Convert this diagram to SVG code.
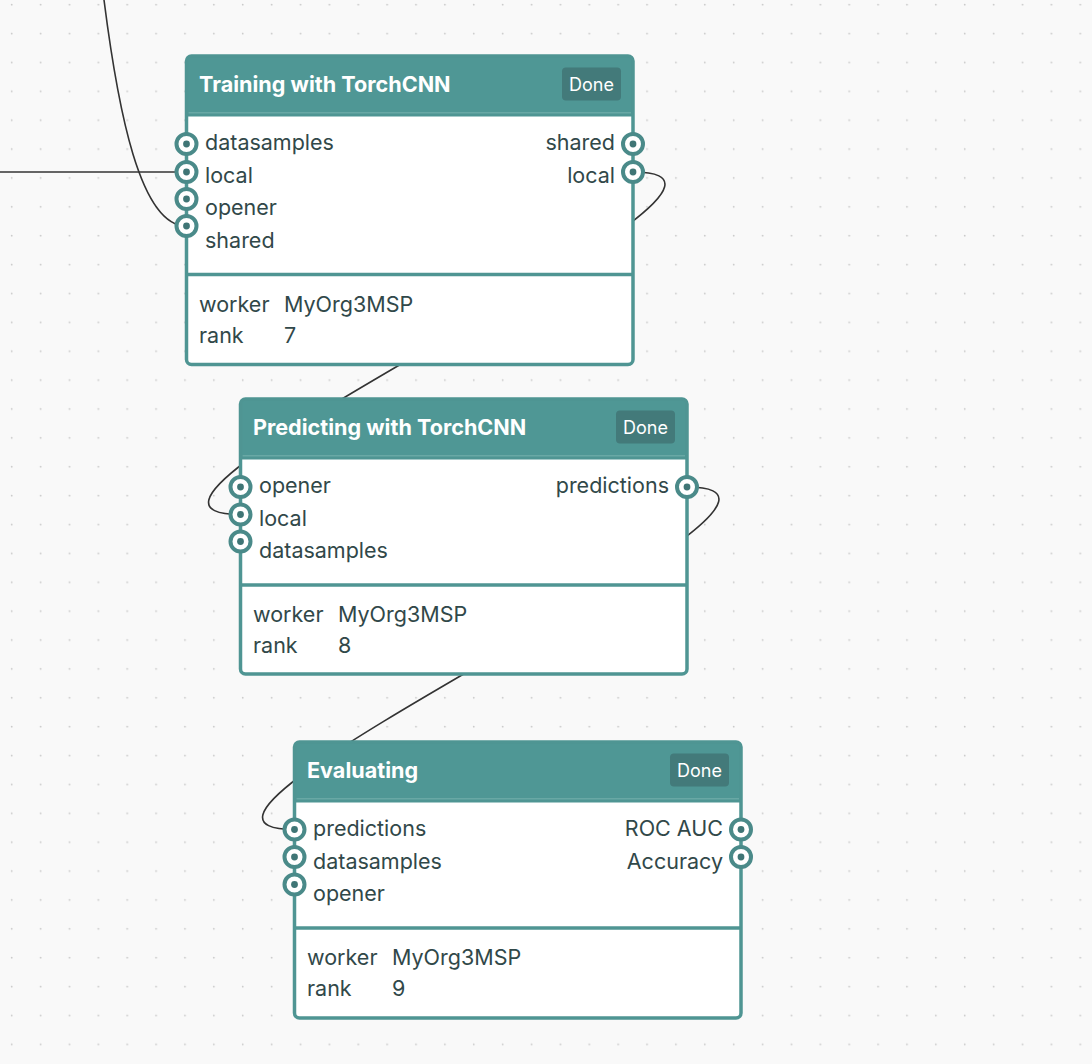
<svg xmlns="http://www.w3.org/2000/svg" width="1092" height="1064" viewBox="0 0 1092 1064">
<defs>
<pattern id="grid" patternUnits="userSpaceOnUse" x="0" y="0" width="28.88" height="28.88">
<circle cx="11.7" cy="4.7" r="0.9" fill="#c9c9c9"/>
</pattern>
<style>
.bg{fill:#f9f9f9}
.link{fill:none;stroke:#333;stroke-width:1.6}
.body{fill:#fff}
.frame{fill:none;stroke:#4f9593;stroke-width:3.5}
.head{fill:#4f9795}
.hl{stroke:#84b9b6;stroke-width:1.2}
.hb{stroke:#4f9593;stroke-width:3}
.sep{stroke:#4f9593;stroke-width:3.5}
.badge{fill:#437a7a}
.title{font-family:Inter,"Liberation Sans",sans-serif;font-weight:700;font-size:21.6px;fill:#fff}
.done{font-family:Inter,"Liberation Sans",sans-serif;font-size:18px;fill:#fff;text-anchor:middle}
.lbl{font-family:Inter,"Liberation Sans",sans-serif;font-size:21.5px;fill:#314849}
.r{text-anchor:end}
.port{fill:#fff;stroke:#4a8a89;stroke-width:4}
.dot{fill:#3f7575}
</style>
</defs>
<rect class="bg" width="1092" height="1064"/>
<rect fill="url(#grid)" width="1092" height="1064"/>

<g id="connectors">
<path class="link" d="M0,172 L186,172"/>
<path class="link" d="M104,0 C118,110 140,226 186,226"/>
<path class="link" d="M633,172 C830,172 43.5,514.5 240.5,514.5"/>
<path class="link" d="M687,487 C884,487 97.5,829.5 294.5,829.5"/>
</g>

<g id="node-training" transform="translate(186.5,56)">
<rect class="body" x="0" y="0" width="446.5" height="308.5" rx="5"/>
<path class="head" d="M0,58 V5 Q0,0 5,0 H441.5 Q446.5,0 446.5,5 V58 Z"/>
<line class="hl" x1="2" y1="57" x2="444.5" y2="57"/>
<line class="hb" x1="0" y1="59" x2="446.5" y2="59"/>
<line class="sep" x1="0" y1="218.5" x2="446.5" y2="218.5"/>
<rect class="frame" x="0" y="0" width="446.5" height="308.5" rx="5"/>
<text class="title" x="12.5" y="35.5">Training with TorchCNN</text>
<rect class="badge" x="375.5" y="11.5" width="59" height="33" rx="4"/>
<text class="done" x="405" y="34.5">Done</text>
<text class="lbl" x="18.5" y="94">datasamples</text>
<text class="lbl" x="18.5" y="126.5">local</text>
<text class="lbl" x="18.5" y="159">opener</text>
<text class="lbl" x="18.5" y="191.5">shared</text>
<text class="lbl r" x="428.5" y="94">shared</text>
<text class="lbl r" x="428.5" y="126.5">local</text>
<text class="lbl" x="12.5" y="255.5">worker</text>
<text class="lbl" x="97.5" y="255.5">MyOrg3MSP</text>
<text class="lbl" x="12.5" y="286.5">rank</text>
<text class="lbl" x="97.5" y="286.5">7</text>
<circle class="port" cx="0" cy="88" r="10"/><circle class="dot" cx="0" cy="88" r="3.4"/>
<circle class="port" cx="0" cy="116" r="10"/><circle class="dot" cx="0" cy="116" r="3.4"/>
<circle class="port" cx="0" cy="143" r="10"/><circle class="dot" cx="0" cy="143" r="3.4"/>
<circle class="port" cx="0" cy="170" r="10"/><circle class="dot" cx="0" cy="170" r="3.4"/>
<circle class="port" cx="446.5" cy="88" r="10"/><circle class="dot" cx="446.5" cy="88" r="3.4"/>
<circle class="port" cx="446.5" cy="116" r="10"/><circle class="dot" cx="446.5" cy="116" r="3.4"/>
</g>

<g id="node-predicting" transform="translate(240.5,399)">
<rect class="body" x="0" y="0" width="446.5" height="275" rx="5"/>
<path class="head" d="M0,58 V5 Q0,0 5,0 H441.5 Q446.5,0 446.5,5 V58 Z"/>
<line class="hl" x1="2" y1="57" x2="444.5" y2="57"/>
<line class="hb" x1="0" y1="59" x2="446.5" y2="59"/>
<line class="sep" x1="0" y1="186" x2="446.5" y2="186"/>
<rect class="frame" x="0" y="0" width="446.5" height="275" rx="5"/>
<text class="title" x="12.5" y="35.5">Predicting with TorchCNN</text>
<rect class="badge" x="375.5" y="11.5" width="59" height="33" rx="4"/>
<text class="done" x="405" y="34.5">Done</text>
<text class="lbl" x="18.5" y="94">opener</text>
<text class="lbl" x="18.5" y="126.5">local</text>
<text class="lbl" x="18.5" y="159">datasamples</text>
<text class="lbl r" x="428.5" y="94">predictions</text>
<text class="lbl" x="12.5" y="223">worker</text>
<text class="lbl" x="97.5" y="223">MyOrg3MSP</text>
<text class="lbl" x="12.5" y="254">rank</text>
<text class="lbl" x="97.5" y="254">8</text>
<circle class="port" cx="0" cy="88" r="10"/><circle class="dot" cx="0" cy="88" r="3.4"/>
<circle class="port" cx="0" cy="115.5" r="10"/><circle class="dot" cx="0" cy="115.5" r="3.4"/>
<circle class="port" cx="0" cy="142.5" r="10"/><circle class="dot" cx="0" cy="142.5" r="3.4"/>
<circle class="port" cx="446.5" cy="88" r="10"/><circle class="dot" cx="446.5" cy="88" r="3.4"/>
</g>

<g id="node-evaluating" transform="translate(294.5,742)">
<rect class="body" x="0" y="0" width="446.5" height="276" rx="5"/>
<path class="head" d="M0,58 V5 Q0,0 5,0 H441.5 Q446.5,0 446.5,5 V58 Z"/>
<line class="hl" x1="2" y1="57" x2="444.5" y2="57"/>
<line class="hb" x1="0" y1="59" x2="446.5" y2="59"/>
<line class="sep" x1="0" y1="186" x2="446.5" y2="186"/>
<rect class="frame" x="0" y="0" width="446.5" height="276" rx="5"/>
<text class="title" x="12.5" y="35.5">Evaluating</text>
<rect class="badge" x="375.5" y="11.5" width="59" height="33" rx="4"/>
<text class="done" x="405" y="34.5">Done</text>
<text class="lbl" x="18.5" y="94">predictions</text>
<text class="lbl" x="18.5" y="126.5">datasamples</text>
<text class="lbl" x="18.5" y="159">opener</text>
<text class="lbl r" x="428.5" y="94">ROC AUC</text>
<text class="lbl r" x="428.5" y="126.5">Accuracy</text>
<text class="lbl" x="12.5" y="223">worker</text>
<text class="lbl" x="97.5" y="223">MyOrg3MSP</text>
<text class="lbl" x="12.5" y="254">rank</text>
<text class="lbl" x="97.5" y="254">9</text>
<circle class="port" cx="0" cy="87.5" r="10"/><circle class="dot" cx="0" cy="87.5" r="3.4"/>
<circle class="port" cx="0" cy="115" r="10"/><circle class="dot" cx="0" cy="115" r="3.4"/>
<circle class="port" cx="0" cy="142.5" r="10"/><circle class="dot" cx="0" cy="142.5" r="3.4"/>
<circle class="port" cx="446.5" cy="87.5" r="10"/><circle class="dot" cx="446.5" cy="87.5" r="3.4"/>
<circle class="port" cx="446.5" cy="115" r="10"/><circle class="dot" cx="446.5" cy="115" r="3.4"/>
</g>
</svg>
